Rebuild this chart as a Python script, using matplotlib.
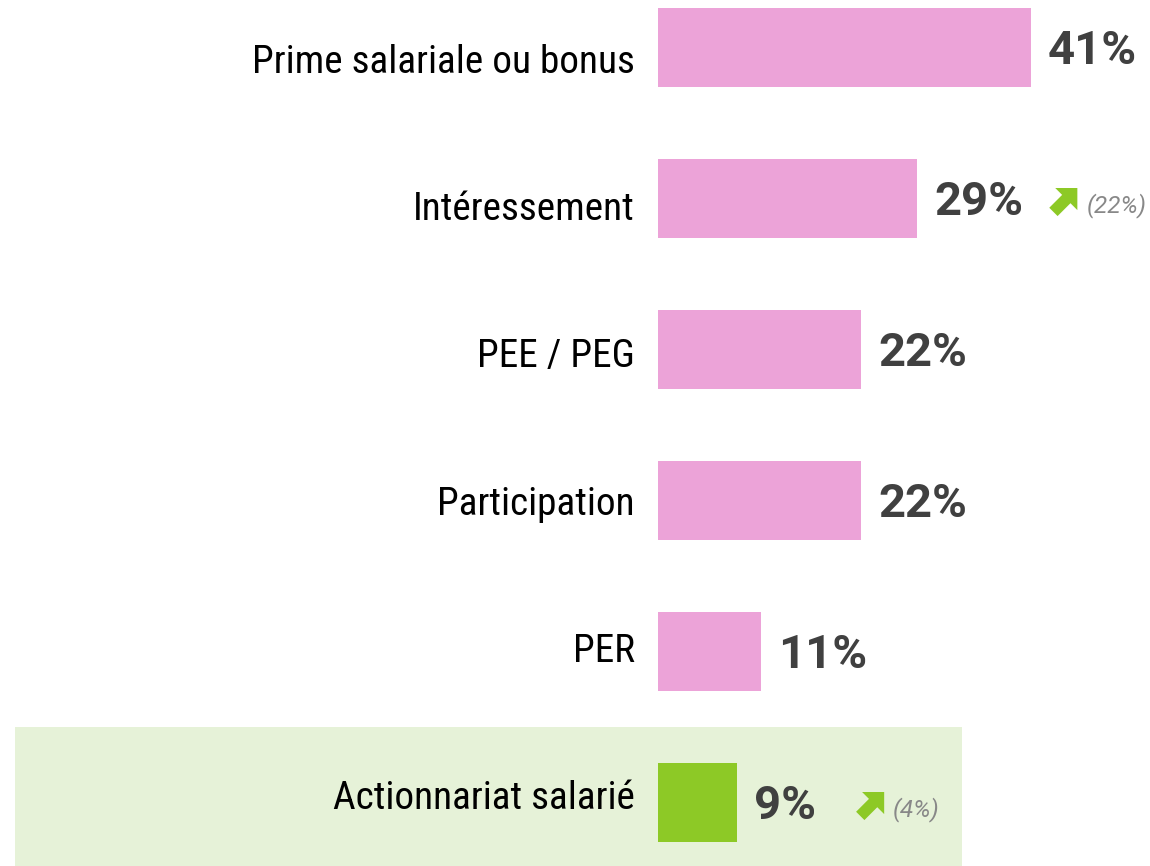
import matplotlib
matplotlib.use("Agg")
import matplotlib.pyplot as plt
from matplotlib import font_manager as fm
from matplotlib.patches import Polygon

categories = ["Prime salariale ou bonus", "Intéressement", "PEE / PEG",
              "Participation", "PER", "Actionnariat salarié"]
values = [41.0, 28.5, 22.3, 22.3, 11.3, 8.7]
value_labels = ["41%", "29%", "22%", "22%", "11%", "9%"]
previous = [None, "(22%)", None, None, None, "(4%)"]
highlight = [False, False, False, False, False, True]

PINK = "#ECA3D8"
GREEN = "#8DC926"
BG_GREEN = "#E6F2D8"
DARK = "#404040"
GREY = "#888888"

names = {f.name for f in fm.fontManager.ttflist}
label_family, label_stretch = "DejaVu Sans", "condensed"
for cand in ["Roboto Condensed", "Liberation Sans Narrow", "DejaVu Sans Condensed"]:
    if cand in names:
        label_family, label_stretch = cand, "normal"
        break
value_family = "Roboto" if "Roboto" in names else "DejaVu Sans"

W, H = 1150, 866
fig = plt.figure(figsize=(W / 100, H / 100), dpi=100)
ax = fig.add_axes([0, 0, 1, 1])
ax.set_axis_off()

X0 = 658.0      # px of value 0
SX = 9.1        # px per unit
Y0 = 47.0       # px centre of first row
SY = 151.0      # px between rows
ax.set_xlim(-X0 / SX, (W - X0) / SX)
ax.set_ylim((H - Y0) / SY, -Y0 / SY)

n = len(categories)
ypos = list(range(n))

for i, h in enumerate(highlight):
    if h:
        ax.axhspan(i - (801 - 726) / SY, (H - Y0) / SY, xmin=15 / W, xmax=962 / W,
                   color=BG_GREEN, zorder=0, lw=0)

colors = [GREEN if h else PINK for h in highlight]
ax.barh(ypos, values, height=79 / SY, color=colors, zorder=2)

for i in range(n):
    label_base_px = 73 + 147.2 * i
    ax.text(-23 / SX, (label_base_px - Y0) / SY, categories[i], ha="right",
            va="baseline", fontsize=28.3, family=label_family,
            fontstretch=label_stretch, color="black")
    ax.text(values[i] + 17 / SX, ypos[i] + 17 / SY, value_labels[i],
            ha="left", va="baseline", fontsize=34, fontweight="bold",
            family=value_family, color=DARK)

# trend arrow: unit shape (y up), tip at top-right
arrow_shape = [(1, 1), (0.15, 1), (0.415, 0.735), (-0.08, 0.24), (0.24, -0.08),
               (0.735, 0.415), (1, 0.15)]
arrow_offsets = {1: 147, 5: 134}   # px from bar end to arrow centre
ASZ = 26.0
for i, p in enumerate(previous):
    if p is None:
        continue
    xc = values[i] + arrow_offsets[i] / SX
    yc = ypos[i] + 3 / SY
    pts = [(xc + (u - 0.5) * ASZ / SX, yc - (v - 0.5) * ASZ / SY)
           for u, v in arrow_shape]
    ax.add_patch(Polygon(pts, closed=True, color=GREEN, lw=0, zorder=3))
    ax.text(xc + 22 / SX, ypos[i] + 14 / SY, p, ha="left", va="baseline",
            fontsize=17.5, style="italic", family=value_family, color=GREY)

fig.savefig("out.png", dpi=100)
